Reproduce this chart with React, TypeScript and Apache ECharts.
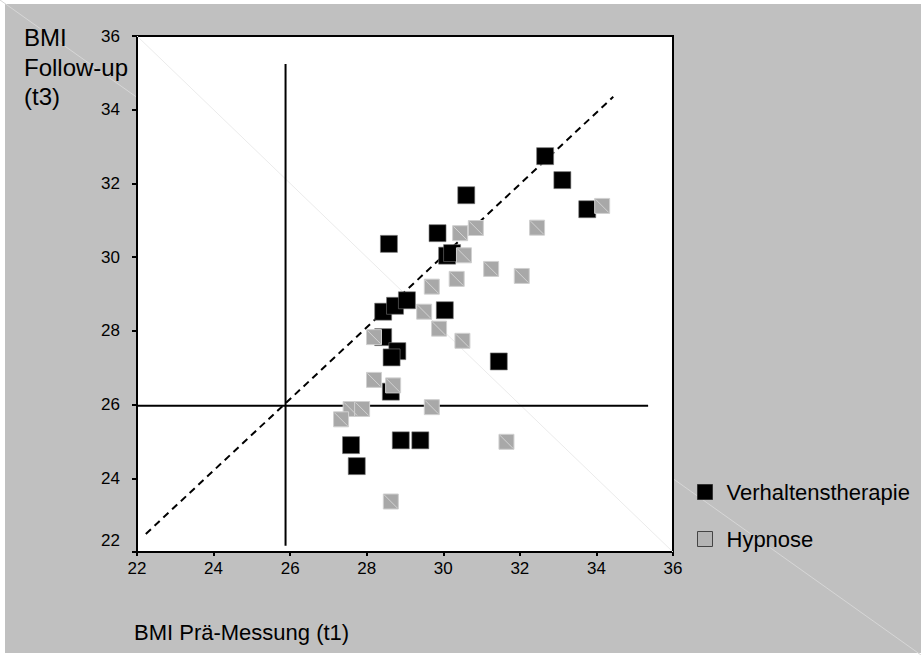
import React, { useEffect, useRef } from "react";
import * as echarts from "echarts";

// Axis ticks
const xTickMin = 22;
const xTickMax = 36;
const yTickMin = 22;
const yTickMax = 36;
const tickStep = 2;

// Series names
const seriesNames = ["Verhaltenstherapie", "Hypnose"];

// Verhaltenstherapie: [BMI t1, BMI t3]
const verhaltenstherapie: [number, number][] = [
  [32.66, 32.74], [33.11, 32.09], [30.6, 31.68], [33.76, 31.3], [29.85, 30.65],
  [28.58, 30.36], [30.1, 30.04], [30.23, 30.11], [30.04, 28.56], [31.45, 27.17],
  [28.43, 28.52], [28.74, 28.68], [29.05, 28.83], [28.43, 27.83], [28.8, 27.45],
  [28.65, 27.28], [28.63, 26.35], [27.59, 24.9], [27.74, 24.33], [28.89, 25.03],
  [29.4, 25.03],
];

// Hypnose: [BMI t1, BMI t3]
const hypnose: [number, number][] = [
  [34.15, 31.39], [32.45, 30.8], [30.85, 30.79], [30.44, 30.65], [30.54, 30.05],
  [31.25, 29.68], [32.05, 29.49], [30.35, 29.41], [29.7, 29.2], [29.5, 28.52],
  [29.89, 28.06], [30.5, 27.73], [28.19, 27.83], [28.19, 26.67], [28.69, 26.52],
  [29.7, 25.93], [27.58, 25.88], [27.88, 25.88], [27.33, 25.6], [28.63, 23.37],
  [31.65, 24.99],
];

// Reference lines (data coordinates)
const refVertical: [number, number][] = [[25.88, 22.17], [25.88, 35.24]];
const refHorizontal: [number, number][] = [[22, 25.97], [35.35, 25.97]];
const refDiagonal: [number, number][] = [[22.23, 22.49], [34.44, 34.35]];
const plotCrossLine: [number, number][] = [[xTickMin, yTickMax], [xTickMax, yTickMin]];

const FONT = "'Liberation Sans', Arial, sans-serif";

export default function App() {
  const ref = useRef<HTMLDivElement>(null);
  useEffect(() => {
    if (!ref.current) return;
    const chart = echarts.init(ref.current, null, { renderer: "svg" });
    const axisCommon = {
      type: "value" as const,
      interval: tickStep,
      splitLine: { show: false },
      axisLine: { show: true, onZero: false, lineStyle: { color: "#000", width: 2 } },
    };
    chart.setOption({
      animation: false,
      backgroundColor: "transparent",
      textStyle: { fontFamily: FONT },
      title: [
        {
          text: "BMI\nFollow-up\n(t3)",
          left: 24,
          top: 23,
          padding: 0,
          textStyle: { fontSize: 24, fontWeight: "normal", color: "#000", lineHeight: 29.5, fontFamily: FONT },
        },
        {
          text: "BMI Prä-Messung (t1)",
          left: 134,
          top: 621,
          padding: 0,
          textStyle: { fontSize: 22, fontWeight: "normal", color: "#000", fontFamily: FONT },
        },
      ],
      legend: {
        orient: "vertical",
        left: 697,
        top: 481,
        padding: 0,
        itemWidth: 15,
        itemHeight: 15,
        itemGap: 25,
        icon: "rect",
        textStyle: { fontSize: 22, color: "#000", fontFamily: FONT, padding: [0, 0, 0, 9] },
        data: [
          { name: seriesNames[0], itemStyle: { color: "#000", borderColor: "#333", borderWidth: 1 } },
          { name: seriesNames[1], itemStyle: { color: "#b4b4b4", borderColor: "#444", borderWidth: 1 } },
        ],
      },
      grid: {
        left: 137,
        top: 36,
        width: 536,
        height: 516,
        show: true,
        backgroundColor: "#fff",
        borderColor: "#000",
        borderWidth: 2,
      },
      xAxis: {
        ...axisCommon,
        min: xTickMin,
        max: xTickMax,
        axisTick: { show: true, length: 4, lineStyle: { color: "#000", width: 2 } },
        axisLabel: { margin: 8, fontSize: 17, color: "#000", fontFamily: FONT },
      },
      yAxis: {
        ...axisCommon,
        min: yTickMin,
        max: yTickMax,
        axisTick: { show: true, length: 5, lineStyle: { color: "#000", width: 2 } },
        axisLabel: {
          margin: 17,
          fontSize: 17,
          color: "#000",
          fontFamily: FONT,
          formatter: (v: number) => (v === yTickMin ? "{low|" + v + "}" : String(v)),
          rich: { low: { fontSize: 17, color: "#000", fontFamily: FONT, padding: [0, 0, 24, 0] } },
        },
      },
      series: [
        {
          type: "line",
          data: plotCrossLine,
          symbol: "none",
          silent: true,
          z: 1,
          lineStyle: { color: "#ebebeb", width: 1 },
        },
        {
          type: "line",
          data: refVertical,
          symbol: "none",
          silent: true,
          z: 2,
          lineStyle: { color: "#000", width: 2 },
        },
        {
          type: "line",
          data: refHorizontal,
          symbol: "none",
          silent: true,
          z: 2,
          lineStyle: { color: "#000", width: 2 },
        },
        {
          type: "line",
          data: refDiagonal,
          symbol: "none",
          silent: true,
          z: 2,
          lineStyle: { color: "#000", width: 2, type: [7, 5] },
        },
        {
          name: seriesNames[0],
          type: "scatter",
          data: verhaltenstherapie,
          symbol: "rect",
          symbolSize: 17,
          z: 3,
          itemStyle: { color: "#000", borderColor: "#777", borderWidth: 0.6, opacity: 1 },
        },
        {
          name: seriesNames[1],
          type: "scatter",
          data: hypnose,
          symbol: "rect",
          symbolSize: 15,
          z: 4,
          itemStyle: { color: "#a8a8a8", borderColor: "#d0d0d0", borderWidth: 1, opacity: 1 },
        },
        {
          name: "hatch",
          type: "scatter",
          data: hypnose,
          symbol: "path://M0,0L10,10",
          symbolSize: 13,
          silent: true,
          z: 5,
          itemStyle: { color: "rgba(0,0,0,0)", borderColor: "#d2d2d2", borderWidth: 1, opacity: 1 },
        },
      ],
    });
    return () => chart.dispose();
  }, []);

  return (
    <div style={{ position: "absolute", left: 0, top: 0, width: 921, height: 655, background: "#fff", overflow: "hidden" }}>
      <div style={{ position: "absolute", left: 5, top: 4, width: 916, height: 649, background: "#c0c0c0" }} />
      <svg width={921} height={655} style={{ position: "absolute", left: 0, top: 0 }}>
        <line x1={0} y1={0} x2={921} y2={655} stroke="#d6d6d6" strokeWidth={1} />
      </svg>
      <div ref={ref} style={{ position: "absolute", left: 0, top: 0, width: 921, height: 655 }} />
    </div>
  );
}
